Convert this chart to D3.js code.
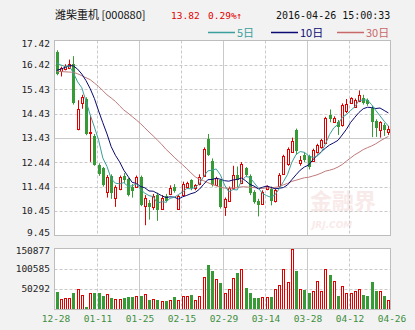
<!DOCTYPE html>
<html>
<head>
<meta charset="utf-8">
<title>潍柴重机 K线</title>
<script src="https://d3js.org/d3.v7.min.js"></script>
<style>
  body { margin: 0; background: #f2f2f2; }
  svg { display: block; }
</style>
</head>
<body>
<svg width="415" height="330"></svg>
<script>
    // 坐标轴标签
    var dateTicks = ["12-28", "01-11", "01-25", "02-15", "02-29", "03-14", "03-28", "04-12", "04-26"];
    var priceTicks = [17.42, 16.42, 15.43, 14.43, 13.43, 12.44, 11.44, 10.45, 9.45];
    var volTicks = [150877, 100585, 50292];

    // 日K数据 (80个交易日)
    var open = [16.95,16.19,16.26,16.30,16.46,13.79,14.86,15.04,13.62,13.53,
        12.33,12.19,11.23,11.88,11.00,11.37,11.90,11.75,11.45,11.45,
        11.84,10.65,10.77,10.61,11.10,10.55,11.05,11.15,11.43,10.55,
        11.10,11.45,11.72,11.38,11.55,11.90,13.40,12.50,11.53,11.70,
        10.61,10.88,11.38,11.91,11.60,12.20,11.90,11.23,10.88,10.75,
        11.36,11.36,10.87,11.47,11.98,12.36,12.88,13.76,12.42,12.75,
        12.70,12.50,12.85,13.05,13.25,14.36,14.08,14.07,13.95,14.52,
        14.88,14.72,14.95,15.06,14.97,14.66,14.15,13.75,13.98,13.70];
    var close = [16.05,16.30,16.39,16.46,14.86,14.63,15.13,13.61,13.69,12.33,
        11.98,11.50,11.84,11.20,11.43,11.85,11.73,11.10,11.28,11.84,
        10.70,11.00,10.60,11.05,10.50,11.00,10.88,11.40,11.25,11.05,
        11.55,11.58,11.38,11.50,11.85,13.00,12.74,11.50,11.78,10.62,
        10.93,11.38,11.93,11.71,12.39,11.91,11.20,10.82,10.68,11.23,
        11.46,10.88,11.30,11.92,12.69,12.97,13.30,12.90,12.55,12.55,
        12.25,12.95,13.15,13.35,14.27,14.20,14.27,13.87,14.77,14.83,
        15.06,15.00,15.20,14.86,14.83,14.10,13.83,14.07,13.78,13.82];
    var high = [17.02,16.35,16.45,16.64,16.78,14.98,15.20,15.10,14.34,13.60,
        12.40,12.25,11.92,11.95,11.50,11.90,12.00,11.80,11.55,11.90,
        11.90,11.10,10.90,11.15,11.20,11.10,11.15,11.50,11.55,11.10,
        11.65,11.65,11.75,11.55,11.95,13.05,13.60,12.60,11.85,11.75,
        11.00,11.45,12.30,12.27,12.45,12.25,11.95,11.30,10.95,11.30,
        11.50,11.45,11.35,12.00,12.75,13.05,13.45,13.82,12.70,12.85,
        12.75,13.00,13.20,13.40,14.30,14.60,14.32,14.17,14.85,15.03,
        15.10,15.05,15.38,15.20,15.05,14.75,14.20,14.12,14.05,13.93];
    var low = [16.00,15.95,16.20,16.25,14.80,13.75,14.63,13.55,12.46,12.30,
        11.89,11.45,11.00,10.95,10.62,11.30,11.60,11.05,11.00,11.40,
        10.65,9.87,10.10,10.50,10.05,10.50,10.80,11.10,11.20,10.50,
        11.05,11.40,11.30,11.30,11.50,11.85,12.70,11.45,11.50,10.55,
        10.25,10.82,11.33,11.43,11.55,11.85,11.10,10.75,10.23,10.70,
        11.30,10.68,10.80,11.40,11.95,12.30,12.85,12.75,12.30,12.45,
        12.15,12.45,12.80,13.00,13.20,14.08,14.05,13.56,13.90,14.45,
        14.85,14.68,14.90,14.80,14.75,13.47,13.48,13.45,13.52,13.56];
    var volume = [44500,26400,28900,28900,41200,51100,36300,7400,41200,41200,
        41200,34600,38800,28900,26400,26400,28900,29700,29700,32200,
        34600,38800,24700,26400,22300,19800,19800,22300,30500,24700,
        32200,32200,37100,24700,32200,81600,111300,94000,75800,65100,
        41200,49500,79100,91500,100600,54400,39600,28000,28000,29700,
        29700,29700,51900,59400,100600,66800,150877,94000,51900,47800,
        40400,45300,71700,45300,100600,84100,69300,34600,56900,42000,
        39600,45300,49500,37100,34600,67600,45300,45300,34600,22300];

    // 均线
    var ma5 = [16.50,16.42,16.36,16.38,16.10,15.73,15.49,14.94,14.38,13.88,
        13.35,12.62,12.27,11.77,11.59,11.56,11.61,11.46,11.48,11.56,
        11.33,11.18,11.08,11.04,10.77,10.83,10.81,10.97,11.01,11.12,
        11.23,11.37,11.36,11.41,11.57,11.86,12.09,12.12,12.17,11.93,
        11.51,11.24,11.33,11.31,11.67,11.86,11.83,11.61,11.40,11.17,
        11.08,11.01,11.11,11.36,11.65,11.95,12.44,12.76,12.88,12.85,
        12.71,12.64,12.69,12.85,13.19,13.58,13.85,13.99,14.28,14.39,
        14.56,14.71,14.97,14.99,14.99,14.80,14.56,14.34,14.12,13.92];
    var ma10 = [16.20,16.25,16.32,16.40,16.38,16.25,16.05,15.78,15.45,15.05,
        14.54,14.06,13.60,13.08,12.73,12.46,12.12,11.87,11.62,11.58,
        11.45,11.40,11.27,11.26,11.17,11.08,11.00,11.03,11.02,10.94,
        11.03,11.09,11.16,11.21,11.34,11.54,11.73,11.74,11.79,11.75,
        11.69,11.67,11.72,11.74,11.80,11.69,11.54,11.47,11.36,11.42,
        11.47,11.42,11.36,11.38,11.41,11.52,11.73,11.93,12.12,12.25,
        12.33,12.54,12.72,12.87,13.02,13.15,13.24,13.34,13.56,13.79,
        14.07,14.28,14.48,14.63,14.69,14.68,14.64,14.66,14.56,14.46];
    var ma30 = [16.16,16.15,16.14,16.13,16.12,16.06,15.98,15.90,15.82,15.68,
        15.54,15.37,15.20,15.07,14.93,14.75,14.58,14.45,14.31,14.17,
        14.02,13.85,13.68,13.52,13.35,13.18,12.98,12.82,12.65,12.49,
        12.34,12.18,12.01,11.85,11.75,11.69,11.61,11.54,11.48,11.42,
        11.39,11.38,11.39,11.40,11.44,11.44,11.42,11.41,11.39,11.37,
        11.40,11.39,11.42,11.44,11.52,11.58,11.66,11.71,11.76,11.81,
        11.83,11.88,11.93,12.00,12.08,12.12,12.17,12.25,12.35,12.49,
        12.62,12.75,12.85,12.96,13.04,13.11,13.20,13.31,13.41,13.50];

    var RED = "#e00000", GREEN = "#369a36", GRID = "#c9c9c9";
    var numFont = "'DejaVu Sans Mono', monospace";
    var cjkFont = "'Noto Sans CJK SC', sans-serif";

    var svg = d3.select("svg");

    // 比例尺
    var x = d3.scaleLinear().domain([0, close.length]).range([54.5, 390.5]);
    var y = d3.scaleLinear().domain([9.45, 17.42]).range([235.5, 40.5]);
    var yv = d3.scaleLinear().domain([0, 150877]).range([309.5, 248.5]);

    // 绘图区背景
    svg.append("rect").attr("x", 54.5).attr("y", 40.5).attr("width", 336).attr("height", 195)
        .attr("fill", "#fff");
    svg.append("rect").attr("x", 54.5).attr("y", 248.5).attr("width", 336).attr("height", 61)
        .attr("fill", "#fff");

    // 水印
    svg.append("text").attr("x", 310).attr("y", 209).text("金融界")
        .attr("font-family", cjkFont).attr("font-size", 22).attr("font-weight", "bold")
        .attr("fill", "#f9eaea");
    svg.append("text").attr("x", 312).attr("y", 228).text("JRJ.COM")
        .attr("font-family", "'DejaVu Sans', sans-serif").attr("font-size", 9)
        .attr("font-weight", "bold").attr("font-style", "italic").attr("fill", "#f9eaea");

    // 网格线
    var grid = svg.append("g");
    priceTicks.slice(1, -1).forEach(function(v, i) {
        var yy = Math.round(y(v)) + 0.5;
        grid.append("line").attr("x1", 54.5).attr("x2", 390.5).attr("y1", yy).attr("y2", yy)
            .attr("stroke", GRID).attr("stroke-dasharray", i == 3 ? null : "3,2");
    });
    volTicks.slice(1).forEach(function(v) {
        var yy = Math.round(yv(v)) + 0.5;
        grid.append("line").attr("x1", 54.5).attr("x2", 390.5).attr("y1", yy).attr("y2", yy)
            .attr("stroke", GRID).attr("stroke-dasharray", "3,2");
    });
    dateTicks.forEach(function(d, k) {
        if (k == 0 || k == dateTicks.length - 1) return;
        var xx = Math.round(x(k * 10)) + 0.5;
        [[40.5, 235.5], [248.5, 309.5]].forEach(function(r) {
            grid.append("line").attr("x1", xx).attr("x2", xx).attr("y1", r[0]).attr("y2", r[1])
                .attr("stroke", GRID).attr("stroke-dasharray", k % 2 == 0 ? null : "3,2");
        });
    });

    // K线
    var candles = svg.append("g");
    close.forEach(function(c, i) {
        var xc = Math.round(x(i + 0.5));
        var up = c >= open[i];
        var top = Math.round(y(Math.max(c, open[i]))), bot = Math.round(y(Math.min(c, open[i])));
        candles.append("line").attr("x1", xc + 0.5).attr("x2", xc + 0.5)
            .attr("y1", y(high[i])).attr("y2", y(low[i]))
            .attr("stroke", up ? RED : GREEN);
        if (up) {
            candles.append("rect").attr("x", xc - 1 + 0.5).attr("y", top + 0.5)
                .attr("width", 2).attr("height", Math.max(bot - top, 1))
                .attr("fill", "#fff").attr("stroke", RED);
        } else {
            candles.append("rect").attr("x", xc - 1).attr("y", top)
                .attr("width", 3).attr("height", Math.max(bot - top, 1))
                .attr("fill", GREEN);
        }
    });

    // 均线
    var line = function(vals) {
        return d3.line().x(function(d, i) { return x(i + 0.5); }).y(function(d) { return y(d); })(vals);
    };
    svg.append("path").attr("d", line(ma30)).attr("fill", "none").attr("stroke", "#c07a7a");
    svg.append("path").attr("d", line(ma10)).attr("fill", "none").attr("stroke", "#0a0a72");
    svg.append("path").attr("d", line(ma5)).attr("fill", "none").attr("stroke", "#3a9f9b");

    // 成交量
    var vols = svg.append("g");
    volume.forEach(function(v, i) {
        var xc = Math.round(x(i + 0.5));
        var up = close[i] >= open[i];
        var top = Math.round(yv(v));
        if (up) {
            vols.append("rect").attr("x", xc - 1 + 0.5).attr("y", top + 0.5)
                .attr("width", 2).attr("height", 309 - top)
                .attr("fill", "#fff").attr("stroke", RED);
        } else {
            vols.append("rect").attr("x", xc - 1).attr("y", top)
                .attr("width", 3).attr("height", 310 - top).attr("fill", GREEN);
        }
    });

    // 边框
    svg.append("rect").attr("x", 54.5).attr("y", 40.5).attr("width", 336).attr("height", 195)
        .attr("fill", "none").attr("stroke", "#bdbdbd");
    svg.append("rect").attr("x", 54.5).attr("y", 248.5).attr("width", 336).attr("height", 61)
        .attr("fill", "none").attr("stroke", "#bdbdbd");

    // Y轴标签
    priceTicks.forEach(function(v, i) {
        var yy = y(v);
        if (i == 0) yy += 3;
        if (i == priceTicks.length - 1) yy -= 3;
        svg.append("text").attr("x", 50).attr("y", yy).attr("dy", "0.35em")
            .attr("text-anchor", "end").text(v.toFixed(2))
            .attr("font-family", numFont).attr("font-size", 9.5).attr("fill", "#222");
    });
    volTicks.forEach(function(v, i) {
        var yy = yv(v) + (i == 0 ? 2 : 0);
        svg.append("text").attr("x", 50).attr("y", yy).attr("dy", "0.35em")
            .attr("text-anchor", "end").text(v)
            .attr("font-family", numFont).attr("font-size", 9.5).attr("fill", "#222");
    });

    // X轴标签
    dateTicks.forEach(function(d, k) {
        svg.append("text").attr("x", x(k * 10) + 1.5).attr("y", 322)
            .attr("text-anchor", "middle").text(d)
            .attr("font-family", numFont).attr("font-size", 9.5).attr("fill", "#3d8f3d");
    });

    // 标题
    var head = svg.append("g").attr("font-size", 11);
    head.append("text").attr("x", 55).attr("y", 19).text("潍柴重机 [000880]")
        .attr("font-family", cjkFont).attr("fill", "#111");
    head.append("text").attr("x", 171).attr("y", 19).text("13.82")
        .attr("font-family", numFont).attr("font-size", 9.5).attr("fill", RED);
    head.append("text").attr("x", 208).attr("y", 19).text("0.29%↑")
        .attr("font-family", numFont).attr("font-size", 9.5).attr("fill", RED);
    head.append("text").attr("x", 276).attr("y", 19).text("2016-04-26 15:00:33")
        .attr("font-family", numFont).attr("font-size", 10).attr("fill", "#111");

    // 图例
    var legend = [
        {label: "5日", color: "#3a9f9b", x: 208},
        {label: "10日", color: "#0a0a72", x: 271},
        {label: "30日", color: "#c86868", x: 337}
    ];
    legend.forEach(function(l) {
        svg.append("line").attr("x1", l.x).attr("x2", l.x + 27).attr("y1", 32.5).attr("y2", 32.5)
            .attr("stroke", l.color).attr("stroke-width", 1.5);
        svg.append("text").attr("x", l.x + 29).attr("y", 36.5).text(l.label)
            .attr("font-family", cjkFont).attr("font-size", 11).attr("fill", l.color);
    });
</script>
</body>
</html>
